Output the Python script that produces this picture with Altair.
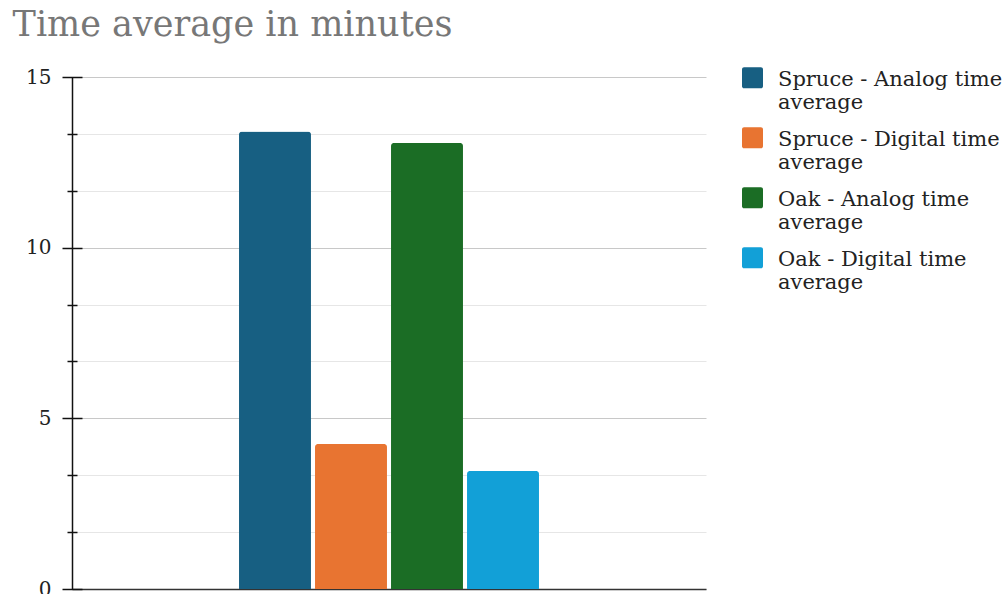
import altair as alt
import pandas as pd

series = [
    "Spruce - Analog time average",
    "Spruce - Digital time average",
    "Oak - Analog time average",
    "Oak - Digital time average",
]
values = [13.4, 4.25, 13.07, 3.46]
colors = ["#175f82", "#e87431", "#1b6d25", "#12a0d7"]
major_ticks = [0, 5, 10, 15]
minor_ticks = [5 / 3, 10 / 3, 20 / 3, 25 / 3, 35 / 3, 40 / 3]

df = pd.DataFrame({"group": ["all"] * len(series), "series": series, "value": values})

FONT = "DejaVu Serif"

# legend swatch: rounded square, nudged down so the first label line sits beside it
SWATCH = ("M-0.8,-0.114H0.8A0.2,0.2 0 0 1 1,0.086V1.686A0.2,0.2 0 0 1 0.8,1.886"
          "H-0.8A0.2,0.2 0 0 1 -1,1.686V0.086A0.2,0.2 0 0 1 -0.8,-0.114Z")

x_enc = alt.X(
    "group:N",
    scale=alt.Scale(paddingInner=0, paddingOuter=0.543),
    axis=alt.Axis(labels=False, ticks=False, title=None, grid=False,
                  domainColor="#333333", domainWidth=1.5),
)
xo_enc = alt.XOffset(
    "series:N",
    sort=series,
    scale=alt.Scale(paddingInner=0.053, paddingOuter=0.026),
)
y_scale = alt.Scale(domain=[0, 15], nice=False)

bars = alt.Chart(df).mark_bar(cornerRadiusTopLeft=3, cornerRadiusTopRight=3).encode(
    x=x_enc,
    xOffset=xo_enc,
    y=alt.Y(
        "value:Q",
        scale=y_scale,
        axis=alt.Axis(
            orient="left",
            title=None,
            values=major_ticks + minor_ticks,
            ticks=False,
            tickSize=0,
            labelPadding=21,
            labelExpr="datum.value % 5 === 0 ? datum.label : ''",
            labelFont=FONT,
            labelFontSize=20,
            labelColor="#222222",
            domainColor="#111111",
            domainWidth=1.5,
            grid=True,
            gridColor={"condition": {"test": "datum.value % 5 === 0", "value": "#c8c8c8"}, "value": "#e6e6e6"},
            gridWidth=1,
        ),
    ),
    color=alt.Color(
        "series:N",
        sort=series,
        scale=alt.Scale(domain=series, range=colors),
        legend=alt.Legend(
            title=None,
            orient="none",
            legendX=670,
            legendY=-19,
            symbolType=SWATCH,
            symbolSize=441,
            symbolStrokeWidth=0,
            symbolOpacity=1,
            labelFont=FONT,
            labelFontSize=21,
            labelColor="#222222",
            labelExpr="[replace(datum.label, ' average', ''), 'average']",
            labelBaseline="top",
            labelOffset=15,
            labelLimit=400,
            rowPadding=5,
        ),
    ),
)

major = alt.Chart(df).mark_bar(opacity=0).encode(
    x=x_enc,
    xOffset=xo_enc,
    y=alt.Y(
        "value:Q",
        scale=y_scale,
        axis=alt.Axis(orient="left", title=None, values=major_ticks, labels=False,
                      domain=False, grid=False, tickSize=20, offset=-10,
                      tickColor="#111111", tickWidth=1.5),
    ),
)

minor = alt.Chart(df).mark_bar(opacity=0).encode(
    x=x_enc,
    xOffset=xo_enc,
    y=alt.Y(
        "value:Q",
        scale=y_scale,
        axis=alt.Axis(orient="left", title=None, values=minor_ticks, labels=False,
                      domain=False, grid=False, tickSize=10, offset=-5,
                      tickColor="#111111", tickWidth=1.5),
    ),
)

chart = (
    alt.layer(bars, major, minor)
    .resolve_axis(y="independent")
    .properties(
        width=634,
        height=512,
        padding={"left": 12, "top": 8, "right": 0, "bottom": 0},
        title=alt.Title(
            "Time average in minutes",
            anchor="start",
            font=FONT,
            fontSize=35,
            fontWeight="normal",
            color="#777777",
            dx=-13,
            offset=15,
        ),
    )
    .configure_view(stroke=None)
)

chart.save("out.html", embed_options={"renderer": "svg", "actions": False})
